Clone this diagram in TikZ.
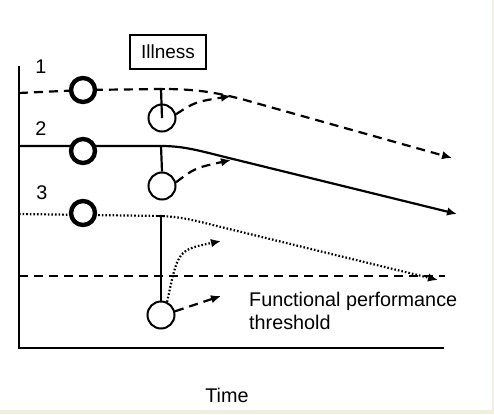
\documentclass[tikz,border=0pt]{standalone}
\usepackage{fontspec}
\setmainfont{Liberation Sans}
\usetikzlibrary{arrows.meta,calc}
\definecolor{beige}{HTML}{F1EEDF}
\begin{document}
\begin{tikzpicture}[x=1pt,y=-1pt,
  txt/.style={font=\fontsize{19.8}{22}\selectfont, inner sep=0pt},
  bigring/.style={circle, draw, line width=4.4pt, fill=white, minimum size=24pt, inner sep=0pt},
  smallring/.style={circle, draw, line width=2pt, minimum size=27pt, inner sep=0pt},
  curve/.style={line width=2.2pt},
  dash5/.style={curve, dash pattern=on 9pt off 6pt},
  dot5/.style={curve, line width=2.2pt, dash pattern=on 1.6pt off 2pt},
  tip/.style={-{Latex[length=10pt,width=8.5pt]}},
  stem/.style={line width=2.2pt}]
\useasboundingbox (0,0) rectangle (494,414);
\fill[beige] (0,0) rectangle (494,414);
\fill[white] (0,0) rectangle (492,410);
% axes
\coordinate (top) at (19,66);
\coordinate (orig) at (19,348);
\coordinate (xend) at (444,348);
\draw[line width=2.6pt] (top) -- (orig) -- (xend);
% illness box
\node[draw, line width=2.1pt, minimum width=76pt, minimum height=34pt, inner sep=0pt,
      font=\fontsize{19}{21}\selectfont] (ill) at (168,52) {Illness};
% labels
\node[txt] (l1) at (41,67) {1};
\node[txt] (l2) at (41,129) {2};
\node[txt] (l3) at (42,193) {3};
% threshold
\coordinate (t0) at (19,276);
\coordinate (t1) at (445,276);
\draw[dash5] (t0) -- (t1);
% line coordinates
\coordinate (a1) at (19,93);
\coordinate (m1) at (161,89);
\coordinate (e1) at (452,158);
\coordinate (a2) at (19,146);
\coordinate (m2) at (161,146);
\coordinate (e2) at (457,214);
\coordinate (a3) at (19,214);
\coordinate (m3) at (161,216);
\coordinate (e3) at (438,280);
% trajectories
\draw[dash5, tip] (a1) -- (84,90) -- (m1) .. controls (195,89) and (215,92) .. (245,100) -- (e1);
\draw[curve, tip] (a2) -- (m2) .. controls (185,146) and (200,151) .. (233,159) -- (e2);
\draw[dot5, tip] (a3) -- (m3) .. controls (185,217) and (200,222) .. (225,228) -- (e3);
% big rings
\node[bigring] (b1) at (83,90) {};
\node[bigring] (b2) at (83,151) {};
\node[bigring] (b3) at (83,213) {};
% small rings after illness
\node[smallring] (s1) at (162,118) {};
\node[smallring] (s2) at (162,186) {};
\node[smallring] (s3) at (161,315) {};
% stems
\draw[stem] (m1) -- (s1.center);
\draw[stem] ($(m1)+(-4,0)$) -- ($(m1)+(4,0)$);
\draw[stem] (m2) -- (s2.north);
\draw[stem] (m3) -- (s3.north);
\draw[stem] ($(m3)+(-4,0)$) -- ($(m3)+(4,0)$);
% recovery arrows
\coordinate (r1) at (231,96);
\coordinate (r2) at (231,160);
\coordinate (r3a) at (221,241);
\coordinate (r3b) at (221,296);
\draw[dash5, tip] (s1.15) .. controls (195,102) .. (r1);
\draw[dash5, tip] (s2.15) .. controls (195,168) .. (r2);
\draw[dot5, tip] (s3.65) .. controls (178,250) .. (r3a);
\draw[dash5, tip] (s3.15) -- (r3b);
% texts
\node[txt, anchor=west] (fp) at (249,301) {Functional performance};
\node[txt, anchor=west] (th) at (249,322) {threshold};
\node[txt] (time) at (227,395) {Time};
\end{tikzpicture}
\end{document}
